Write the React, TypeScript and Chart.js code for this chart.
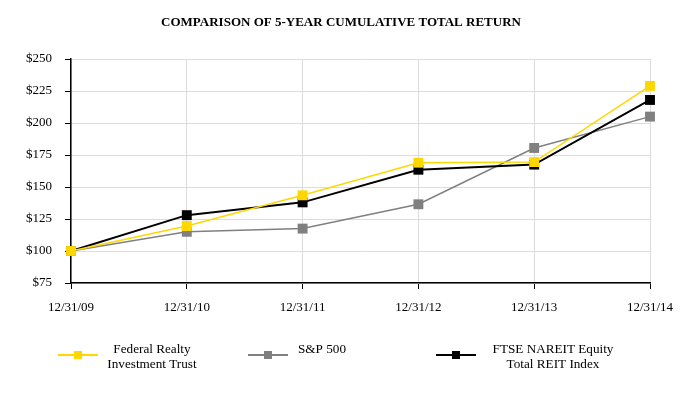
import React, { useEffect, useRef } from "react";
import { Chart, registerables } from "chart.js";

Chart.register(...registerables);

const TITLE = "COMPARISON OF 5-YEAR CUMULATIVE TOTAL RETURN";
const categories = ["12/31/09", "12/31/10", "12/31/11", "12/31/12", "12/31/13", "12/31/14"];
const federalRealty = [100, 119.5, 143.5, 169, 169.5, 229];
const sp500 = [100, 115, 117.5, 136.5, 180.5, 205];
const ftseNareit = [100, 128, 138, 163.5, 167.5, 218];
const seriesNames = [
  ["Federal Realty", "Investment Trust"],
  ["S&P 500"],
  ["FTSE NAREIT Equity", "Total REIT Index"],
];
const seriesColors = ["#FFD700", "#808080", "#000000"];
const yMin = 75;
const yMax = 250;
const yStep = 25;

const FONT = "'Liberation Serif', 'Times New Roman', serif";

const overlayPlugin = {
  id: "overlay",
  afterDraw(chart: any) {
    const ctx = chart.ctx;
    ctx.save();
    // title
    ctx.fillStyle = "#000";
    ctx.font = `bold 13px ${FONT}`;
    ctx.textAlign = "center";
    ctx.textBaseline = "middle";
    ctx.fillText(TITLE, 341, 23);
    // legend
    const lineStarts = [58, 248, 436];
    const textCenters = [152, 322, 553];
    const lineY = 355;
    ctx.font = `13.2px ${FONT}`;
    chart.data.datasets.forEach((ds: any, i: number) => {
      const x0 = lineStarts[i];
      ctx.strokeStyle = ds.borderColor;
      ctx.lineWidth = 2;
      ctx.beginPath();
      ctx.moveTo(x0, lineY);
      ctx.lineTo(x0 + 40, lineY);
      ctx.stroke();
      ctx.fillStyle = ds.backgroundColor;
      ctx.fillRect(x0 + 16, lineY - 4, 8, 8);
      ctx.fillStyle = "#000";
      const lines: string[] = seriesNames[i];
      lines.forEach((t, k) => {
        ctx.fillText(t, textCenters[i], 349.5 + k * 15.5);
      });
    });
    ctx.restore();
  },
};

export default function App() {
  const ref = useRef<HTMLCanvasElement | null>(null);
  useEffect(() => {
    if (!ref.current) return;
    const mk = (data: number[], i: number, order: number) => ({
      label: seriesNames[i].join(" "),
      data,
      borderColor: seriesColors[i],
      backgroundColor: seriesColors[i],
      pointBackgroundColor: seriesColors[i],
      pointBorderColor: seriesColors[i],
      pointBorderWidth: 0,
      pointStyle: "rect",
      pointRadius: 7,
      borderWidth: i === 2 ? 2 : 1.5,
      tension: 0,
      order,
    });
    const chart = new Chart(ref.current, {
      type: "line",
      data: {
        labels: categories,
        datasets: [mk(federalRealty, 0, 0), mk(sp500, 1, 2), mk(ftseNareit, 2, 1)],
      },
      options: {
        animation: false,
        responsive: false,
        layout: { padding: { top: 59, right: 32, bottom: 87, left: 0 } },
        plugins: {
          legend: { display: false },
          title: { display: false },
          tooltip: { enabled: false },
        },
        scales: {
          x: {
            type: "category",
            offset: false,
            afterFit: (a: any) => {
              a.height = 30;
              a.paddingLeft = 0;
              a.paddingRight = 0;
            },
            grid: {
              color: "#dcdcdc",
              lineWidth: 1,
              drawTicks: true,
              tickLength: 6,
              tickColor: "#000",
            },
            border: { color: "#000", width: 1.5 },
            ticks: {
              color: "#000",
              font: { family: FONT, size: 13 },
              padding: 11,
              maxRotation: 0,
              autoSkip: false,
            },
          },
          y: {
            min: yMin,
            max: yMax,
            afterFit: (a: any) => {
              a.width = 71;
            },
            grid: {
              color: "#dcdcdc",
              lineWidth: 1,
              drawTicks: true,
              tickLength: 6,
              tickColor: "#000",
            },
            border: { color: "#000", width: 1.5 },
            ticks: {
              stepSize: yStep,
              color: "#000",
              font: { family: FONT, size: 13 },
              padding: 13,
              callback: (v: any) => "$" + v,
            },
          },
        },
      },
      plugins: [overlayPlugin],
    });
    return () => chart.destroy();
  }, []);
  return (
    <div style={{ position: "absolute", left: 0, top: 0, width: 682, height: 400, background: "#fff" }}>
      <canvas ref={ref} width={682} height={400} style={{ width: 682, height: 400, display: "block" }} />
    </div>
  );
}
